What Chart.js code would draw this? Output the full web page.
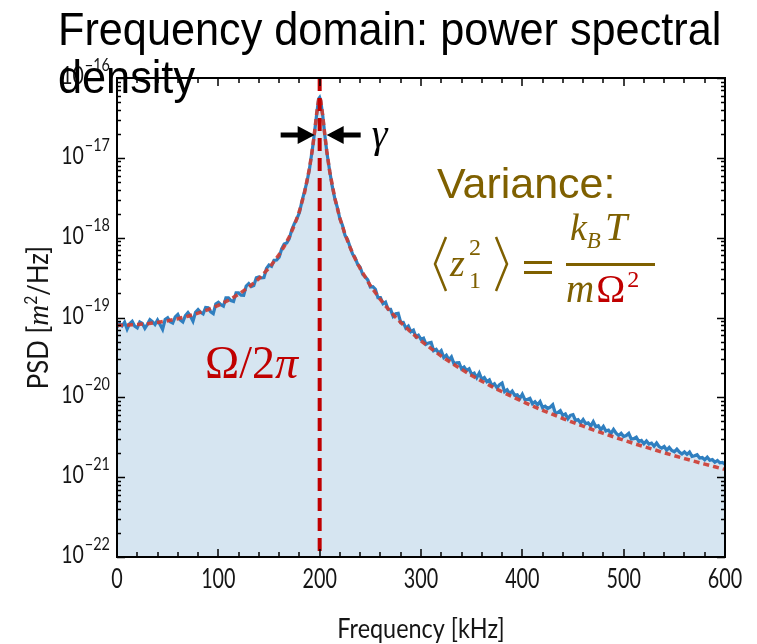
<!DOCTYPE html>
<html>
<head>
<meta charset="utf-8">
<script src="https://cdn.jsdelivr.net/npm/chart.js@4.4.1/dist/chart.umd.min.js"></script>
<style>
  html, body { margin: 0; padding: 0; background: #fff; }
  #wrap { position: relative; width: 757px; height: 644px; overflow: hidden; }
  #psd { position: absolute; left: 0; top: 0; }
  #heading {
    position: absolute; left: 58px; top: 5px; width: 800px;
    font: 47px/48px "Liberation Sans", Arial, sans-serif; color: #000;
    transform: scaleX(0.92); transform-origin: 0 0; white-space: normal;
  }
  #heading span { display: inline-block; width: 740px; }
</style>
</head>
<body>
<div id="wrap">
  <canvas id="psd" width="757" height="644"></canvas>
  <div id="heading"><span>Frequency domain: power spectral</span><br>density</div>
</div>
<script>
// Measured thermal-noise PSD of the oscillator (frequency in kHz, PSD in m^2/Hz)
const measuredFreq = [
  0, 2.5, 5, 7.5, 10, 12.5, 15, 17.5, 20, 22.5,
  25, 27.5, 30, 32.5, 35, 37.5, 40, 42.5, 45, 47.5,
  50, 52.5, 55, 57.5, 60, 62.5, 65, 67.5, 70, 72.5,
  75, 77.5, 80, 82.5, 85, 87.5, 90, 92.5, 95, 97.5,
  100, 102.5, 105, 107.5, 110, 112.5, 115, 117.5, 120, 122.5,
  125, 127.5, 130, 132.5, 135, 137.5, 140, 142.5, 145, 147.5,
  150, 152.5, 155, 157.5, 160, 162.5, 165, 167.5, 170, 172.5,
  175, 177.5, 180, 182.5, 185,
  187.5, 190, 193, 195, 197, 199, 200, 201, 203, 205, 207, 210, 212.5,
  215, 217.5, 220, 222.5, 225, 227.5, 230, 232.5, 235, 237.5,
  240, 242.5, 245, 247.5, 250, 252.5, 255, 257.5, 260, 262.5,
  265, 267.5, 270, 272.5, 275, 277.5, 280, 282.5, 285, 287.5,
  290, 292.5, 295, 297.5, 300, 302.5, 305, 307.5, 310, 312.5,
  315, 317.5, 320, 322.5, 325, 327.5, 330, 332.5, 335, 337.5,
  340, 342.5, 345, 347.5, 350, 352.5, 355, 357.5, 360, 362.5,
  365, 367.5, 370, 372.5, 375, 377.5, 380, 382.5, 385, 387.5,
  390, 392.5, 395, 397.5, 400, 402.5, 405, 407.5, 410, 412.5,
  415, 417.5, 420, 422.5, 425, 427.5, 430, 432.5, 435, 437.5,
  440, 442.5, 445, 447.5, 450, 452.5, 455, 457.5, 460, 462.5,
  465, 467.5, 470, 472.5, 475, 477.5, 480, 482.5, 485, 487.5,
  490, 492.5, 495, 497.5, 500, 502.5, 505, 507.5, 510, 512.5,
  515, 517.5, 520, 522.5, 525, 527.5, 530, 532.5, 535, 537.5,
  540, 542.5, 545, 547.5, 550, 552.5, 555, 557.5, 560, 562.5,
  565, 567.5, 570, 572.5, 575, 577.5, 580, 582.5, 585, 587.5,
  590, 592.5, 595, 597.5, 600
];
const measuredPsd = [
  7.60e-20, 8.41e-20, 7.85e-20, 8.75e-20, 7.16e-20, 8.39e-20, 8.98e-20, 7.80e-20, 7.43e-20, 8.78e-20,
  8.42e-20, 7.31e-20, 8.20e-20, 9.37e-20, 8.85e-20, 8.17e-20, 9.29e-20, 8.16e-20, 7.10e-20, 9.43e-20,
  9.92e-20, 8.86e-20, 8.52e-20, 1.018e-19, 1.092e-19, 9.34e-20, 8.80e-20, 1.060e-19, 1.152e-19, 1.039e-19,
  8.99e-20, 1.163e-19, 1.259e-19, 1.162e-19, 1.108e-19, 1.334e-19, 1.321e-19, 1.178e-19, 1.121e-19, 1.473e-19,
  1.550e-19, 1.444e-19, 1.388e-19, 1.758e-19, 1.759e-19, 1.627e-19, 1.589e-19, 2.035e-19, 2.031e-19, 1.908e-19,
  1.896e-19, 2.479e-19, 2.663e-19, 2.443e-19, 2.511e-19, 3.139e-19, 3.224e-19, 3.135e-19, 3.160e-19, 4.109e-19,
  4.534e-19, 4.378e-19, 5.20e-19, 5.25e-19, 5.70e-19, 7.23e-19, 8.31e-19, 8.56e-19, 9.74e-19, 1.258e-18,
  1.499e-18, 1.716e-18, 2.062e-18, 2.848e-18, 3.775e-18,
  5.03e-18, 7.36e-18, 1.34e-17, 2.12e-17, 3.48e-17, 5.47e-17, 5.69e-17, 5.21e-17, 3.42e-17, 1.98e-17, 1.20e-17, 6.70e-18, 4.35e-18,
  3.07e-18, 2.37e-18, 1.71e-18, 1.43e-18, 1.07e-18, 9.50e-19, 7.63e-19, 6.22e-19, 5.61e-19, 4.63e-19,
  4.25e-19, 3.46e-19, 3.23e-19, 2.96e-19, 2.41e-19, 2.43e-19, 2.26e-19, 1.77e-19, 1.77e-19, 1.49e-19,
  1.556e-19, 1.267e-19, 1.264e-19, 1.035e-19, 1.112e-19, 1.126e-19, 8.65e-20, 8.68e-20, 7.34e-20, 7.81e-20,
  6.64e-20, 6.94e-20, 5.71e-20, 5.99e-20, 5.32e-20, 5.50e-20, 4.62e-20, 4.80e-20, 4.88e-20, 3.84e-20,
  3.99e-20, 3.57e-20, 3.85e-20, 3.16e-20, 3.36e-20, 2.96e-20, 3.21e-20, 2.64e-20, 2.70e-20, 2.72e-20,
  2.28e-20, 2.40e-20, 2.17e-20, 2.27e-20, 1.94e-20, 2.01e-20, 1.76e-20, 2.02e-20, 1.68e-20, 1.77e-20,
  1.57e-20, 1.65e-20, 1.40e-20, 1.476e-20, 1.318e-20, 1.440e-20, 1.512e-20, 1.178e-20, 1.244e-20, 1.115e-20,
  1.199e-20, 1.058e-20, 1.078e-20, 9.67e-21, 1.096e-20, 9.37e-21, 9.39e-21, 9.73e-21, 8.31e-21, 8.80e-21,
  8.08e-21, 8.83e-21, 7.43e-21, 7.74e-21, 7.25e-21, 7.53e-21, 8.08e-21, 6.38e-21, 6.44e-21, 6.80e-21,
  5.94e-21, 6.19e-21, 5.40e-21, 5.95e-21, 6.08e-21, 5.14e-21, 5.27e-21, 4.77e-21, 5.26e-21, 4.68e-21,
  4.80e-21, 4.36e-21, 4.95e-21, 4.28e-21, 4.40e-21, 3.92e-21, 4.32e-21, 3.79e-21, 3.89e-21, 3.53e-21,
  3.97e-21, 3.56e-21, 3.34e-21, 3.55e-21, 3.23e-21, 3.32e-21, 3.53e-21, 3.01e-21, 3.04e-21, 3.17e-21,
  2.80e-21, 2.88e-21, 2.62e-21, 2.84e-21, 2.60e-21, 2.67e-21, 2.44e-21, 2.68e-21, 2.41e-21, 2.31e-21,
  2.42e-21, 2.18e-21, 2.36e-21, 2.16e-21, 2.08e-21, 2.25e-21, 2.06e-21, 1.95e-21, 2.07e-21, 1.93e-21,
  2.06e-21, 1.82e-21, 1.85e-21, 1.91e-21, 1.74e-21, 1.76e-21, 1.65e-21, 1.78e-21, 1.63e-21, 1.66e-21,
  1.54e-21, 1.62e-21, 1.51e-21, 1.53e-21, 1.45e-21
];

// Damped harmonic oscillator fit (dashed curve)
const fitFreq = [
  0, 10, 20, 30, 40, 50, 60, 70, 80, 90, 100, 110, 120, 130, 140, 150, 160, 165, 170, 175,
  180, 185, 190, 193, 195, 197, 199, 200, 201, 203, 205, 207, 210, 215, 220, 225, 230, 235,
  240, 250, 260, 270, 280, 290, 300, 310, 320, 330, 340, 350, 360, 370, 380, 390, 400,
  410, 420, 430, 440, 450, 460, 470, 480, 490, 500, 510, 520, 530, 540, 550, 560, 570,
  580, 590, 600
];
const fitPsd = [
  8.00e-20, 8.04e-20, 8.16e-20, 8.37e-20, 8.68e-20, 9.10e-20, 9.66e-20, 1.038e-19, 1.134e-19, 1.258e-19,
  1.422e-19, 1.644e-19, 1.953e-19, 2.399e-19, 3.07e-19, 4.16e-19, 6.13e-19, 7.77e-19, 1.025e-18, 1.428e-18,
  2.148e-18, 3.63e-18, 7.43e-18, 1.325e-17, 2.12e-17, 3.55e-17, 5.36e-17, 5.69e-17, 5.26e-17, 3.39e-17,
  1.98e-17, 1.216e-17, 6.63e-18, 3.10e-18, 1.747e-18, 1.106e-18, 7.55e-19, 5.45e-19,
  4.09e-19, 2.51e-19, 1.671e-19, 1.178e-19, 8.65e-20, 6.57e-20, 5.11e-20, 4.07e-20, 3.29e-20, 2.70e-20,
  2.24e-20, 1.880e-20, 1.594e-20, 1.363e-20, 1.174e-20, 1.019e-20, 8.89e-21,
  7.80e-21, 6.88e-21, 6.10e-21, 5.43e-21, 4.85e-21, 4.35e-21, 3.91e-21, 3.53e-21, 3.20e-21, 2.90e-21,
  2.64e-21, 2.41e-21, 2.21e-21, 2.02e-21, 1.857e-21, 1.710e-21, 1.577e-21,
  1.457e-21, 1.348e-21, 1.250e-21
];

const RESONANCE_KHZ = 200;        // Omega / 2 pi
const LINEWIDTH_LEVEL = 1.93e-17; // height at which the gamma arrows sit
const X_MIN = 0, X_MAX = 600, X_STEP = 20, X_LABEL_STEP = 100;
const Y_MIN_EXP = -22, Y_MAX_EXP = -16;

const AXIS_FONT = 'Lato, "Open Sans", sans-serif';
const SERIF = '"Liberation Serif", "DejaVu Serif", serif';
const OLIVE = '#7F6000';
const DARK_RED = '#C00000';
const INK = '#151515';

function isDecade(v) {
  const l = Math.log10(v);
  return Math.abs(l - Math.round(l)) < 1e-6;
}

// draws text squeezed horizontally by sx; returns drawn width
function narrowText(ctx, text, x, y, font, sx, align) {
  ctx.font = font;
  const w = ctx.measureText(text).width * sx;
  const x0 = align === 'center' ? x - w / 2 : align === 'right' ? x - w : x;
  ctx.save();
  ctx.translate(x0, y);
  ctx.scale(sx, 1);
  ctx.fillText(text, 0, 0);
  ctx.restore();
  return w;
}

// plot frame, inward ticks on all four sides, tick labels and axis titles
const frameTicks = {
  id: 'frameTicks',
  afterDatasetsDraw(chart) {
    const { ctx, chartArea: a, scales: { x, y } } = chart;
    ctx.save();
    ctx.strokeStyle = '#000';
    ctx.lineWidth = 1.5;
    ctx.beginPath();
    x.ticks.forEach(t => {
      const px = Math.round(x.getPixelForValue(t.value));
      const len = t.value % X_LABEL_STEP === 0 ? 8 : 5;
      ctx.moveTo(px, a.bottom); ctx.lineTo(px, a.bottom - len);
      ctx.moveTo(px, a.top); ctx.lineTo(px, a.top + len);
    });
    y.ticks.forEach(t => {
      const py = Math.round(y.getPixelForValue(t.value)) + 0.5;
      const len = isDecade(t.value) ? 8 : 4;
      ctx.moveTo(a.left, py); ctx.lineTo(a.left + len, py);
      ctx.moveTo(a.right, py); ctx.lineTo(a.right - len, py);
    });
    ctx.stroke();
    ctx.lineWidth = 2;
    ctx.strokeRect(a.left, a.top, a.right - a.left, a.bottom - a.top);

    ctx.fillStyle = INK;
    ctx.textBaseline = 'alphabetic';
    ctx.textAlign = 'left';

    // x tick labels
    x.ticks.forEach(t => {
      if (t.value % X_LABEL_STEP !== 0) return;
      narrowText(ctx, String(t.value), x.getPixelForValue(t.value), a.bottom + 31,
        '26px ' + AXIS_FONT, 0.76, 'center');
    });

    // y decade labels 10^n
    y.ticks.forEach(t => {
      if (!isDecade(t.value)) return;
      const e = Math.round(Math.log10(t.value));
      const py = y.getPixelForValue(t.value);
      const sup = '\u2212' + Math.abs(e);
      const right = a.left - 7;
      const wSup = narrowText(ctx, sup, right, py - 7, '17px ' + AXIS_FONT, 0.85, 'right');
      narrowText(ctx, '10', right - wSup - 1, py + 6, '25px ' + AXIS_FONT, 0.78, 'right');
    });

    // x axis title
    narrowText(ctx, 'Frequency [kHz]', (a.left + a.right) / 2, 638, '26px ' + AXIS_FONT, 0.9, 'center');

    // y axis title: PSD [m^2/Hz]
    const parts = [
      { t: 'PSD [', f: '28px ' + AXIS_FONT, dy: 0, sx: 0.92 },
      { t: 'm', f: 'italic 29px ' + SERIF, dy: 0, sx: 1 },
      { t: '2', f: '17px ' + AXIS_FONT, dy: -11, sx: 0.92 },
      { t: '/Hz]', f: '28px ' + AXIS_FONT, dy: 0, sx: 0.92 }
    ];
    let total = 0;
    parts.forEach(p => { ctx.font = p.f; p.w = ctx.measureText(p.t).width * p.sx; total += p.w; });
    ctx.translate(48, (a.top + a.bottom) / 2);
    ctx.rotate(-Math.PI / 2);
    let cx = -total / 2;
    parts.forEach(p => { narrowText(ctx, p.t, cx, p.dy, p.f, p.sx, 'left'); cx += p.w; });
    ctx.restore();
  }
};

function arrow(ctx, tipX, y, dir) {
  ctx.beginPath();
  ctx.moveTo(tipX, y);
  ctx.lineTo(tipX - dir * 17, y - 9);
  ctx.lineTo(tipX - dir * 17, y - 2.5);
  ctx.lineTo(tipX - dir * 34, y - 2.5);
  ctx.lineTo(tipX - dir * 34, y + 2.5);
  ctx.lineTo(tipX - dir * 17, y + 2.5);
  ctx.lineTo(tipX - dir * 17, y + 9);
  ctx.closePath();
  ctx.fill();
}

function runText(ctx, pieces, x, y) {
  pieces.forEach(p => {
    ctx.font = p.f;
    ctx.fillStyle = p.c;
    ctx.fillText(p.t, x, y + (p.dy || 0));
    x += ctx.measureText(p.t).width + (p.gap || 0);
  });
  return x;
}

// annotations: linewidth arrows, resonance label and the variance formula
const notes = {
  id: 'notes',
  afterDraw(chart) {
    const { ctx, scales: { x, y } } = chart;
    const cx = x.getPixelForValue(RESONANCE_KHZ);
    const cy = Math.round(y.getPixelForValue(LINEWIDTH_LEVEL));
    ctx.save();
    ctx.textBaseline = 'alphabetic';
    ctx.textAlign = 'left';
    ctx.fillStyle = '#000';
    arrow(ctx, cx - 5, cy, 1);
    arrow(ctx, cx + 7, cy, -1);
    ctx.font = 'italic 40px ' + SERIF;
    ctx.fillText('\u03B3', cx + 52, cy + 12);

    // Omega / 2 pi
    runText(ctx, [
      { t: '\u03A9/2', f: '46px ' + SERIF, c: DARK_RED },
      { t: '\u03C0', f: 'italic 46px ' + SERIF, c: DARK_RED }
    ], 205, 378);

    // Variance: <z1^2> = kB T / (m Omega^2)
    ctx.font = '43px "Liberation Sans", Arial, sans-serif';
    ctx.fillStyle = OLIVE;
    ctx.fillText('Variance:', 437, 198);

    ctx.strokeStyle = OLIVE;
    ctx.lineWidth = 2.5;
    ctx.beginPath();
    ctx.moveTo(446, 237); ctx.lineTo(435, 264); ctx.lineTo(446, 291);
    ctx.moveTo(496, 237); ctx.lineTo(507, 264); ctx.lineTo(496, 291);
    ctx.stroke();
    ctx.font = 'italic 38px ' + SERIF;
    ctx.fillText('z', 450, 276);
    ctx.font = '24px ' + SERIF;
    ctx.fillText('2', 469, 255);
    ctx.fillText('1', 469, 288);
    ctx.fillRect(524, 261, 28, 3);
    ctx.fillRect(524, 271, 28, 3);

    runText(ctx, [
      { t: 'k', f: 'italic 38px ' + SERIF, c: OLIVE },
      { t: 'B', f: 'italic 23px ' + SERIF, c: OLIVE, dy: 8, gap: 4 },
      { t: 'T', f: 'italic 40px ' + SERIF, c: OLIVE }
    ], 570, 240);
    ctx.fillStyle = OLIVE;
    ctx.fillRect(566, 263, 89, 3);
    runText(ctx, [
      { t: 'm', f: 'italic 39px ' + SERIF, c: OLIVE, gap: 2 },
      { t: '\u03A9', f: '39px ' + SERIF, c: DARK_RED, gap: 2 },
      { t: '2', f: '24px ' + SERIF, c: DARK_RED, dy: -15 }
    ], 566, 302);
    ctx.restore();
  }
};

const xyPairs = (xs, ys) => xs.map((v, i) => ({ x: v, y: ys[i] }));

new Chart(document.getElementById('psd'), {
  type: 'line',
  data: {
    datasets: [
      {
        label: 'Resonance',
        data: [{ x: RESONANCE_KHZ, y: Math.pow(10, Y_MAX_EXP) }, { x: RESONANCE_KHZ, y: Math.pow(10, Y_MIN_EXP) }],
        borderColor: DARK_RED, borderWidth: 4, borderDash: [13, 7],
        pointRadius: 0, fill: false, order: 0
      },
      {
        label: 'Fit',
        data: xyPairs(fitFreq, fitPsd),
        borderColor: 'rgba(205,62,52,0.92)', borderWidth: 3.5, borderDash: [6, 4],
        pointRadius: 0, fill: false, tension: 0, order: 1
      },
      {
        label: 'Measured',
        data: xyPairs(measuredFreq, measuredPsd),
        borderColor: '#2F7FC0', borderWidth: 3.2,
        backgroundColor: '#D6E5F1', fill: 'start',
        pointRadius: 0, tension: 0, order: 2
      }
    ]
  },
  options: {
    responsive: false,
    animation: false,
    devicePixelRatio: 1,
    layout: { padding: { left: 0, right: 32, top: 78, bottom: 0 } },
    plugins: { legend: { display: false }, tooltip: { enabled: false } },
    scales: {
      x: {
        type: 'linear', min: X_MIN, max: X_MAX,
        grid: { display: false, drawTicks: false, tickLength: 0 },
        border: { display: false },
        ticks: { display: false, stepSize: X_STEP, autoSkip: false },
        afterFit: s => { s.height = 87; }
      },
      y: {
        type: 'logarithmic',
        min: Math.pow(10, Y_MIN_EXP), max: Math.pow(10, Y_MAX_EXP),
        grid: { display: false, drawTicks: false, tickLength: 0 },
        border: { display: false },
        ticks: { display: false },
        afterBuildTicks: s => {
          const t = [];
          for (let e = Y_MIN_EXP; e < Y_MAX_EXP; e++) {
            for (let m = 1; m <= 9; m++) t.push({ value: m * Math.pow(10, e) });
          }
          t.push({ value: Math.pow(10, Y_MAX_EXP) });
          s.ticks = t;
        },
        afterFit: s => { s.width = 117; }
      }
    }
  },
  plugins: [frameTicks, notes]
});
</script>
</body>
</html>
